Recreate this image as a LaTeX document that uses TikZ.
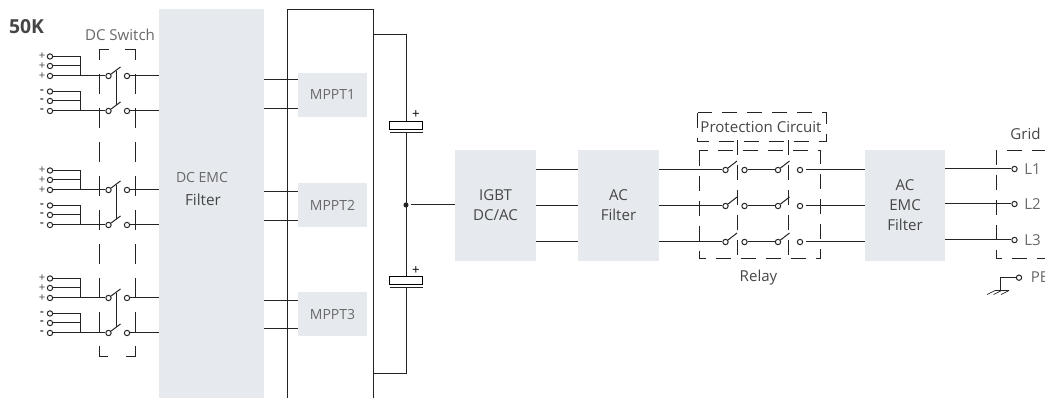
\documentclass[tikz,border=0pt]{standalone}
\usepackage{fontspec}
\setmainfont{Open Sans}
\definecolor{panelgray}{RGB}{230, 234, 238}
\definecolor{wiregray}{RGB}{35, 35, 35}
\definecolor{textgray}{RGB}{105, 105, 105}
\definecolor{darkgray}{RGB}{70, 70, 70}
\tikzset{
  wire/.style={wiregray, line width=0.75pt},
  panel/.style={fill=panelgray, inner sep=0pt, align=center, font=\fontsize{11.3}{15}\selectfont},
  term/.style={circle, draw=wiregray, fill=white, line width=0.75pt, inner sep=0pt, minimum size=4pt},
  swdash/.style={wire, dash pattern=on 15pt off 10.5pt},
  boxdash/.style={wire, dash pattern=on 11.25pt off 7.5pt},
  lab/.style={text=textgray, inner sep=0pt, font=\fontsize{11.3}{13}\selectfont},
}
\begin{document}
\begin{tikzpicture}[x=0.75pt, y=-0.75pt]
\useasboundingbox (0,0) rectangle (1045,398);
% blocks
\node[panel, minimum width=78.75pt, minimum height=291.75pt] (dcemc) at (211.5,203.5) {};
\node[inner sep=0pt, text=textgray, font=\fontsize{10.5}{12}\selectfont] (dcemctext) at (202,178) {DC EMC};
\node[inner sep=0pt, text=darkgray, font=\fontsize{11.5}{13}\selectfont] (dcemcfilter) at (203,200) {Filter};
\draw[wire] (287,398) -- (287,9.5) -- (373,9.5) -- (373,398);
\foreach \i/\y in {1/95, 2/205, 3/314.5} {
    \node[panel, text=textgray, font=\fontsize{10.5}{13}\selectfont, minimum width=51.75pt, minimum height=33pt] (mppt\i) at (332.5,\y) {MPPT\i};
}
\node[panel, text=darkgray, minimum width=60.75pt, minimum height=83.25pt] (igbt) at (495.5,205.5) {IGBT\\DC/AC};
\node[panel, text=darkgray, minimum width=60.75pt, minimum height=83.25pt] (acfilter) at (618.5,205.5) {AC\\Filter};
\node[panel, text=darkgray, minimum width=60pt, minimum height=83.25pt] (acemc) at (905,205.5) {AC\\EMC\\Filter};
% dc inputs and dc switch
\node[font=\fontsize{14.5}{16}\bfseries\selectfont, text=darkgray, inner sep=0pt] (title) at (26.5,27) {50K};
\node[lab] (dcswitch) at (120,34.5) {DC Switch};
\foreach \g/\d in {a/0, b/114, c/222} {
    \foreach \i/\y/\s in {1/56.5/+, 2/66/+, 3/76/+, 4/91.5/\textbf{-}, 5/101/\textbf{-}, 6/111/\textbf{-}} {
        \node[term] (\g\i) at (50,{\y+\d}) {};
        \node[text=darkgray, inner sep=0pt, font=\fontsize{8.5}{9}\selectfont] (\g\i s) at (42,{\y+\d}) {\s};
    }
    \coordinate (\g bp) at (80,{76+\d});
    \coordinate (\g bm) at (80,{111+\d});
    \node[term] (\g sp) at (108.5,{76+\d}) {};
    \node[term] (\g sm) at (108.5,{111+\d}) {};
    \node[term] (\g op) at (127,{76+\d}) {};
    \node[term] (\g om) at (127,{111+\d}) {};
    \draw[wire] (\g1) -| (\g bp);
    \draw[wire] (\g2) -- (\g2 -| \g bp);
    \draw[wire] (\g3) -- (\g sp);
    \draw[wire] (\g4) -| (\g bm);
    \draw[wire] (\g5) -- (\g5 -| \g bm);
    \draw[wire] (\g6) -- (\g sm);
    \draw[wire] (\g sp) -- ++(12,-9);
    \draw[wire] (\g sm) -- ++(12,-9);
    \draw[wire] (\g op) -- (dcemc.west |- \g op);
    \draw[wire] (\g om) -- (dcemc.west |- \g om);
    \draw[wire] (116,{71+\d}) -- (116,{105+\d});
}
\draw[swdash] (109,50) -- (99,50) -- (99,357) -- (109,357);
\draw[swdash] (125,50) -- (135,50) -- (135,357) -- (125,357);
% mppt inputs
\foreach \i/\p/\q in {1/80/109, 2/192/221, 3/300.5/329} {
    \draw[wire] (dcemc.east |- 0,\p) -- (mppt\i.west |- 0,\p);
    \draw[wire] (dcemc.east |- 0,\q) -- (mppt\i.west |- 0,\q);
}
% bus capacitors
\node[draw=black, line width=0.75pt, fill=white, minimum width=24.75pt, minimum height=5.5pt, inner sep=0pt] (capa) at (406,125.5) {};
\node[draw=black, line width=0.75pt, fill=white, minimum width=24.75pt, minimum height=5.5pt, inner sep=0pt] (capb) at (406,280.5) {};
\node[text=black, inner sep=0pt, font=\fontsize{10}{10}\selectfont] (capaplus) at (416,115) {+};
\node[text=black, inner sep=0pt, font=\fontsize{10}{10}\selectfont] (capbplus) at (416,271) {+};
\coordinate (plata) at (406,132.5);
\coordinate (platb) at (406,288);
\coordinate (railtop) at (373,35);
\coordinate (railbot) at (373,374);
\node[circle, fill=wiregray, inner sep=0pt, minimum size=3.8pt] (junc) at (406,205) {};
\coordinate (juncout) at (411,205);
\draw[wire] (railtop) -| (capa.north);
\draw[wire] (plata) ++(-16.5,0) -- ++(33,0);
\draw[wire] (platb) ++(-16.5,0) -- ++(33,0);
\draw[wire] (plata) -- (capb.north);
\draw[wire] (platb) |- (railbot);
\draw[wire] (juncout) -- (igbt.west |- juncout);
% relay
\foreach \i/\y in {1/170, 2/206, 3/242} {
    \node[term] (ra\i) at (725.5,\y) {};
    \node[term] (rb\i) at (744.5,\y) {};
    \node[term] (rc\i) at (778,\y) {};
    \node[term] (rd\i) at (800,\y) {};
    \coordinate (re\i) at (806,\y);
    \draw[wire] (igbt.east |- ra\i) -- (acfilter.west |- ra\i);
    \draw[wire] (acfilter.east |- ra\i) -- (ra\i);
    \draw[wire] (ra\i) -- ++(11.5,-9);
    \draw[wire] (rb\i) -- (rc\i);
    \draw[wire] (rc\i) -- ++(11.5,-9);
    \draw[wire] (re\i) -- (acemc.west |- re\i);
}
\draw[boxdash] (699,150.7) rectangle (820.3,259);
\draw[boxdash] (697.7,112.7) rectangle (826,141.7);
\draw[boxdash] (737,140) -- (737,259);
\draw[boxdash] (788,140) -- (788,259);
\node[lab, text=darkgray] (prot) at (761,127) {Protection Circuit};
\node[lab, text=darkgray] (relay) at (758.5,278) {Relay};
% grid
\node[lab, text=darkgray] (grid) at (1025.5,134) {Grid};
\foreach \i/\y in {1/169, 2/204, 3/240} {
    \node[term] (l\i) at (1014.5,\y) {};
    \node[lab, anchor=west] (l\i t) at (1024,\y) {L\i};
    \draw[wire] (acemc.east |- l\i) -- (l\i);
}
\draw[boxdash] (1047,150.7) -- (996,150.7) -- (996,259) -- (1047,259);
\node[term] (pe) at (1019,277.7) {};
\node[lab, anchor=west] (pet) at (1030.5,277) {PE};
\coordinate (gnd) at (1000.7,291);
\draw[wire] (pe) -| (gnd);
\draw[wire] (995,290.5) -- (1009,290.5);
\foreach \x in {987, 993.5, 1001} {
    \draw[wire, line width=0.5pt] (\x,294.5) -- ++(8,-4);
}
\end{tikzpicture}
\end{document}
